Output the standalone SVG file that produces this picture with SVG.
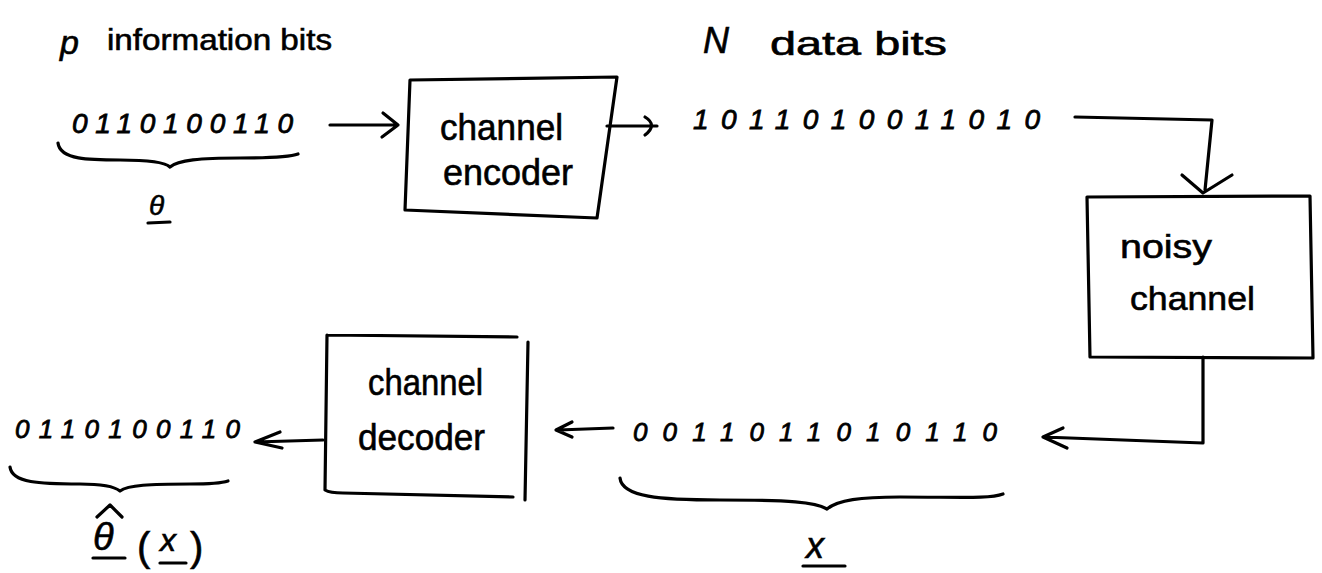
<svg xmlns="http://www.w3.org/2000/svg" width="1322" height="573" viewBox="0 0 1322 573">
  <style>
    .ink { fill: none; stroke: #000; stroke-width: 3.2; stroke-linecap: round; stroke-linejoin: round; }
    .lbl { font-family: "Liberation Sans", Arial, sans-serif; fill: #000; stroke: #000; stroke-width: 0.6; }
    .it { font-style: italic; }
    .bits { font-family: "Liberation Sans", Arial, sans-serif; font-style: italic; fill: #000; stroke: #000; stroke-width: 0.8; }
  </style>
  <rect width="1322" height="573" fill="#fff"/>

  <!-- source side: information bits -->
  <g id="info-bits">
    <text class="lbl it" x="60" y="54" font-size="34">p</text>
    <text class="lbl" x="107" y="50" font-size="30" textLength="225" lengthAdjust="spacingAndGlyphs">information bits</text>
    <text class="bits" x="72" y="133" font-size="28" textLength="221" lengthAdjust="spacing">0110100110</text>
    <path class="ink" d="M58,143 C60,160 90,160 120,160 C150,160 165,162 170,167 C178,160 200,158 240,158 C270,158 290,157 298,154"/>
    <text class="lbl it" x="149" y="215" font-size="28">θ</text>
    <path class="ink" d="M148,223 L170,222"/>
  </g>

  <!-- channel encoder block -->
  <g id="encoder">
    <path class="ink" d="M410,80 L617,77 L597,218 L405,210 Z"/>
    <text class="lbl" x="440" y="140" font-size="36" textLength="123" lengthAdjust="spacingAndGlyphs">channel</text>
    <text class="lbl" x="443" y="185" font-size="36" textLength="130" lengthAdjust="spacingAndGlyphs">encoder</text>
  </g>

  <!-- coded data bits -->
  <g id="data-bits">
    <text class="lbl it" x="703" y="53" font-size="36">N</text>
    <text class="lbl" x="770" y="55" font-size="34" textLength="177" lengthAdjust="spacingAndGlyphs">data bits</text>
    <text class="bits" x="693" y="129" font-size="28" textLength="347" lengthAdjust="spacing">1011010011010</text>
  </g>

  <!-- noisy channel block -->
  <g id="noisy-channel">
    <path class="ink" d="M1087,197 L1310,196 L1313,358 L1090,357 Z"/>
    <text class="lbl" x="1120" y="258" font-size="34" textLength="92" lengthAdjust="spacingAndGlyphs">noisy</text>
    <text class="lbl" x="1130" y="310" font-size="34" textLength="125" lengthAdjust="spacingAndGlyphs">channel</text>
  </g>

  <!-- received bits -->
  <g id="received-bits">
    <text class="bits" x="633" y="441" font-size="26" textLength="364" lengthAdjust="spacing">0011011010110</text>
    <path class="ink" d="M620,478 C622,497 660,500 720,500 C790,500 815,502 827,509 C838,500 860,497 900,497 C960,497 990,499 1003,494"/>
    <text class="lbl it" x="806" y="558" font-size="36">x</text>
    <path class="ink" d="M803,566 L845,566"/>
  </g>

  <!-- channel decoder block -->
  <g id="decoder">
    <path class="ink" d="M327,335 L517,337 M327,335 L325,490 Q330,493 343,493 L513,497 M528,342 L525,500"/>
    <text class="lbl" x="368" y="395" font-size="36" textLength="115" lengthAdjust="spacingAndGlyphs">channel</text>
    <text class="lbl" x="358" y="450" font-size="36" textLength="127" lengthAdjust="spacingAndGlyphs">decoder</text>
  </g>

  <!-- decoded estimate -->
  <g id="estimate">
    <text class="bits" x="15" y="438" font-size="26" textLength="225" lengthAdjust="spacing">0110100110</text>
    <path class="ink" d="M10,467 C12,483 40,484 80,484 C105,484 115,487 120,491 C128,485 150,484 190,484 C210,484 222,483 228,481"/>
    <text class="lbl it" x="93" y="550" font-size="38">θ</text>
    <path class="ink" d="M97,517 L110,505 L122,517"/>
    <path class="ink" d="M93,558 L125,558"/>
    <text class="lbl" x="137" y="561" font-size="40">(</text>
    <text class="lbl it" x="160" y="551" font-size="32">x</text>
    <path class="ink" d="M160,563 L186,563"/>
    <text class="lbl" x="190" y="561" font-size="40">)</text>
  </g>

  <!-- connectors -->
  <g id="connectors">
    <path class="ink" d="M330,125 L398,125 M383,113 L398,125 L382,137"/>
    <path class="ink" d="M607,126 L657,126 M645,117 Q658,125 645,135"/>
    <path class="ink" d="M1075,117 L1212,120 L1205,190 M1182,175 L1203,193 L1232,175"/>
    <path class="ink" d="M1203,357 L1203,443 L1043,437 M1063,428 L1043,437 L1067,448"/>
    <path class="ink" d="M613,428 L558,430 M572,422 L556,430 L572,437"/>
    <path class="ink" d="M323,440 L255,442 M280,432 L255,442 L282,448"/>
  </g>
</svg>
